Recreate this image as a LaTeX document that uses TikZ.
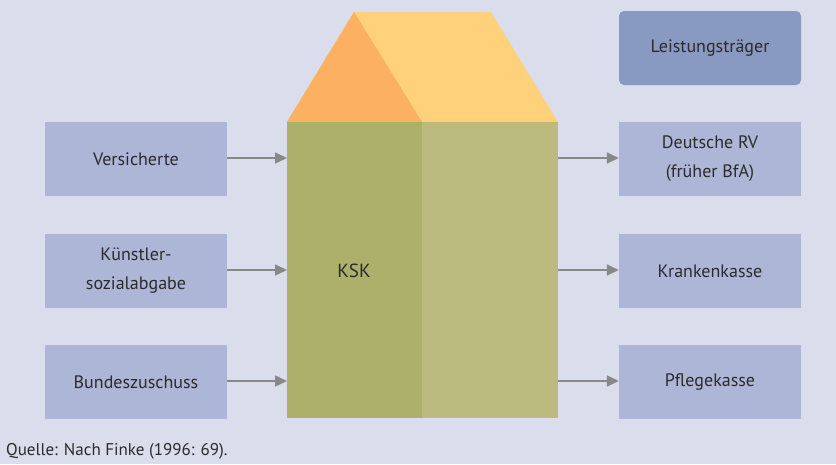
\documentclass[tikz,border=0pt]{standalone}
\usepackage{fontspec}
\setmainfont{PT Sans}
\usetikzlibrary{arrows.meta}
\definecolor{bg}{HTML}{DADDEB}
\definecolor{boxc}{HTML}{AEB6D8}
\definecolor{boxd}{HTML}{8899C2}
\definecolor{roofo}{HTML}{FCB062}
\definecolor{roofy}{HTML}{FED17A}
\definecolor{wallL}{HTML}{ADB06B}
\definecolor{wallR}{HTML}{BBBB80}
\definecolor{txt}{HTML}{2B2B2B}
\definecolor{arr}{HTML}{888888}
\begin{document}
\begin{tikzpicture}[x=1pt,y=-1pt,
  bx/.style={fill=boxc,draw=none,minimum width=182pt,minimum height=74pt,inner sep=0pt,align=center,text=txt,font=\fontsize{18}{29}\selectfont},
  lt/.style={bx,fill=boxd,rounded corners=5pt},
  conn/.style={draw=arr,line width=1.6pt,-{Triangle[length=12pt,width=11pt]}}]
\fill[bg] (0,0) rectangle (836,464);
\useasboundingbox (0,0) rectangle (836,464);
% roof
\fill[roofy] (287,122) -- (354,12) -- (491,12) -- (558,122) -- cycle;
\fill[roofo] (287,122) -- (354,12) -- (422,122) -- cycle;
% walls
\fill[wallL] (287,122) rectangle (422,418);
\fill[wallR] (422,122) rectangle (558,418);
\coordinate (wl1) at (287,158);
\coordinate (wl2) at (287,270);
\coordinate (wl3) at (287,381);
\coordinate (wr1) at (558,158);
\coordinate (wr2) at (558,270);
\coordinate (wr3) at (558,381);
\node[text=txt,font=\fontsize{19}{24}\selectfont] (ksk) at (354,271) {KSK};
% left boxes
\node[bx] (v) at (136,159) {Versicherte};
\node[bx] (k) at (136,271) {Künstler-\\sozialabgabe};
\node[bx] (b) at (136,382) {Bundeszuschuss};
% right boxes
\node[lt] (l) at (710,48) {Leistungsträger};
\node[bx] (d) at (710,159) {Deutsche RV\\(früher BfA)};
\node[bx] (kk) at (710,271) {Krankenkasse};
\node[bx] (p) at (710,382) {Pflegekasse};
\draw[conn] (v.east |- wl1) -- (wl1);
\draw[conn] (k.east |- wl2) -- (wl2);
\draw[conn] (b.east |- wl3) -- (wl3);
\draw[conn] (wr1) -- (d.west |- wr1);
\draw[conn] (wr2) -- (kk.west |- wr2);
\draw[conn] (wr3) -- (p.west |- wr3);
\node[anchor=west,text=txt,font=\fontsize{17}{20}\selectfont,inner sep=0pt] (q) at (6,451) {Quelle: Nach Finke (1996: 69).};
\end{tikzpicture}
\end{document}
